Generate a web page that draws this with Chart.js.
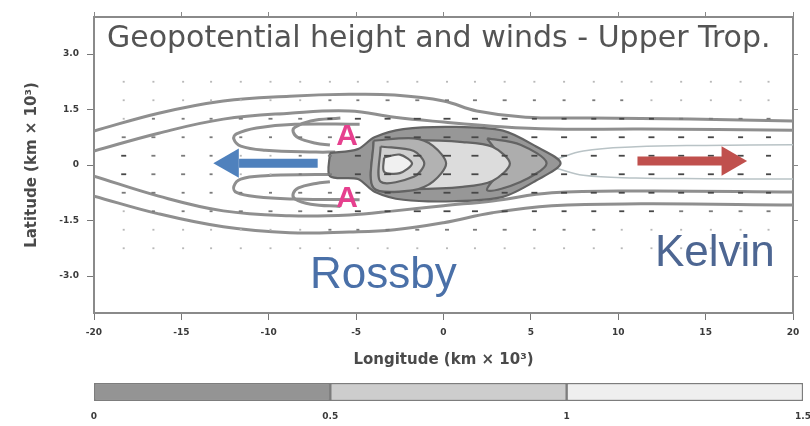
<!DOCTYPE html>
<html>
<head>
<meta charset="utf-8">
<script src="https://cdn.jsdelivr.net/npm/chart.js@4.4.0/dist/chart.umd.min.js"></script>
<style>
    html, body { margin: 0; padding: 0; background: #fff; }
    #wrap { position: relative; width: 810px; height: 426px; overflow: hidden; }
    canvas { position: absolute; left: 0; }
    #mainChart { top: 0; }
    #barChart { top: 372px; }
    .note { position: absolute; line-height: 1; white-space: nowrap; }
    #plotTitle { left: 107px; top: 19px; font: 30px 'DejaVu Sans'; color: #545454; }
    #rossby { left: 310px; top: 248px; font: 44px 'Liberation Sans'; color: #4a70a8; }
    #kelvin { left: 655px; top: 226px; font: 44px 'Liberation Sans'; color: #4d6692; }
    .high { left: 327px; width: 40px; text-align: center; font: bold 30px 'Liberation Sans'; color: #e6408e; }
    #highN { top: 118px; }
    #highS { top: 180px; }
</style>
</head>
<body>
<div id="wrap">
    <canvas id="mainChart" width="810" height="372"></canvas>
    <canvas id="barChart" width="810" height="54"></canvas>
    <div class="note" id="plotTitle">Geopotential height and winds - Upper Trop.</div>
    <div class="note high" id="highN">A</div>
    <div class="note high" id="highS">A</div>
    <div class="note" id="rossby">Rossby</div>
    <div class="note" id="kelvin">Kelvin</div>
</div>
<script>
// axis ticks
const yTicks = [-3, -1.5, 0, 1.5, 3];
const yTickLabels = ['-3.0', '-1.5', '0', '1.5', '3.0'];
const cbEdges = [0, 0.5, 1, 1.5];
const cbTickLabels = ['0', '0.5', '1', '1.5'];
const cbColors = ['#949494', '#cdcdcd', '#efefef'];

// geopotential contours (lon, lat in km x 10^3)
const contourN1 = [[-20, 0.92], [-16.3, 1.40], [-12.6, 1.73], [-8.8, 1.86], [-5.4, 1.91], [-2.8, 1.89], [0, 1.73], [1.9, 1.46], [4.7, 1.29], [8.5, 1.27], [14.1, 1.24], [20, 1.19]];
const contourN2 = [[-20, 0.38], [-16.3, 0.86], [-12.6, 1.24], [-8.8, 1.40], [-5.4, 1.46], [-2.8, 1.29], [0, 1.16], [2.8, 1.05], [6.2, 0.97], [11.3, 0.97], [20, 0.94]];
const contourS2 = [[-20, -0.30], [-16.3, -0.84], [-12.6, -1.24], [-8.8, -1.37], [-5.4, -1.35], [-2.8, -1.24], [0, -1.10], [2.8, -0.97], [6.2, -0.75], [11.3, -0.70], [20, -0.73]];
const contourS1 = [[-20, -0.84], [-16.3, -1.32], [-12.6, -1.67], [-8.8, -1.83], [-5.4, -1.81], [-2.8, -1.75], [0, -1.56], [2.8, -1.29], [6.2, -1.10], [11.3, -1.05], [20, -1.08]];
const kelvinN = [[6.4, 0.15], [8, 0.38], [11, 0.49], [15, 0.53], [20, 0.55]];
const kelvinS = [[6.4, -0.08], [8, -0.28], [11, -0.35], [15, -0.37], [20, -0.38]];
const lobeNOuter = [[-4.8, 1.10], [-8.5, 1.10], [-10.7, 1.00], [-11.85, 0.84], [-12.0, 0.70], [-11.6, 0.51], [-10.2, 0.40], [-7.3, 0.35], [-6.2, 0.35]];
const lobeNInner = [[-5.9, 1.27], [-7.6, 1.19], [-8.5, 1.02], [-8.6, 0.89], [-8.3, 0.73], [-7.3, 0.59], [-6.5, 0.54]];
const lobeSOuter = [[-6.2, -0.26], [-7.3, -0.26], [-10.2, -0.29], [-11.6, -0.38], [-12.0, -0.58], [-11.85, -0.74], [-10.7, -0.86], [-8.5, -0.92], [-4.8, -0.94]];
const lobeSInner = [[-6.5, -0.45], [-7.3, -0.50], [-8.3, -0.62], [-8.6, -0.77], [-8.5, -0.92], [-7.6, -1.06], [-5.9, -1.12]];

// shaded heights near the heating
const shadeOuter = [[-6.5, 0.32], [-4.9, 0.43], [-3.95, 0.75], [-2.3, 0.97], [0.6, 1.03], [3.4, 0.93], [5.3, 0.50], [6.7, 0.05], [5.3, -0.42], [3.4, -0.86], [0.6, -0.98], [-2.3, -0.94], [-3.95, -0.72], [-4.9, -0.38], [-6.5, -0.30], [-6.5, 0.32]];
const shadeTip = [[2.5, 0.72], [4.4, 0.55], [5.9, 0.05], [4.4, -0.46], [2.5, -0.68], [3.4, 0.03], [2.5, 0.72]];
const shadeC2 = [[-4, 0.62], [-1.7, 0.67], [1.1, 0.62], [2.8, 0.49], [3.8, 0.04], [2.8, -0.43], [1.1, -0.59], [-1.7, -0.65], [-4, -0.60], [-4, 0.62]];
const shadeC3 = [[-4, 0.66], [-1.7, 0.72], [-0.6, 0.52], [0.15, 0.04], [-0.6, -0.45], [-1.7, -0.68], [-4, -0.62], [-4, 0.66]];
const shadeC4 = [[-3.6, 0.50], [-1.7, 0.38], [-1.1, 0.04], [-1.7, -0.32], [-3.6, -0.45], [-3.6, 0.50]];
const shadeCore = [[-3.4, 0.20], [-2.5, 0.28], [-1.8, 0.04], [-2.5, -0.22], [-3.4, -0.18], [-3.4, 0.20]];

// wind grid
const windLon = [-18.3, -16.6, -14.9, -13.3, -11.6, -9.9, -8.2, -6.5, -4.9, -3.2, -1.5, 0.2, 1.8, 3.5, 5.2, 6.9, 8.6, 10.2, 11.9, 13.6, 15.3, 17.0, 18.6];
const windLat = [2.25, 1.75, 1.25, 0.75, 0.25, -0.25, -0.75, -1.25, -1.75, -2.25];
const windSpeed = [
    [1, 1, 1, 1, 1, 1, 1, 1, 1, 1, 1, 1, 1, 1, 1, 1, 1, 1, 1, 1, 1, 1, 1],
    [1, 1, 1, 1, 1, 1, 1, 1.5, 1.5, 2, 2, 2, 2, 2, 1.5, 1.5, 1.5, 1.5, 1, 1, 1, 1, 1],
    [1, 1.5, 1.5, 1.5, 2, 2, 2, 2.5, 3, 3, 3.5, 3.5, 3, 3, 2.5, 2.5, 2.5, 2.5, 2.5, 2, 2, 2, 2],
    [2, 2, 1.5, 1.5, 1.5, 1.5, 2, 2, 2.5, 3, 3.5, 3.5, 3.5, 3, 3, 3, 3, 3, 3, 3, 3, 2.5, 2.5],
    [2.5, 2, 2, 1.5, 1, 1, 1.5, 2, 3, 3.5, 4, 4, 3.5, 3, 3, 3, 3, 3, 3, 3, 3, 3, 2.5],
    [2.5, 2, 2, 1.5, 1, 1, 1.5, 2, 3, 3.5, 4, 4, 3.5, 3, 3, 3, 3, 3, 3, 3, 3, 3, 2.5],
    [2, 2, 1.5, 1.5, 1.5, 1.5, 2, 2, 2.5, 3, 3.5, 3.5, 3.5, 3, 3, 3, 3, 3, 3, 3, 3, 2.5, 2.5],
    [1, 1.5, 1.5, 1.5, 2, 2, 2, 2.5, 3, 3, 3.5, 3.5, 3, 3, 2.5, 2.5, 2.5, 2.5, 2.5, 2, 2, 2, 2],
    [1, 1, 1, 1, 1, 1, 1, 1.5, 1.5, 2, 2, 2, 2, 2, 1.5, 1.5, 1.5, 1, 1, 1, 1, 1, 1],
    [1, 1, 1, 1, 1, 1, 1, 1, 1, 1, 1, 1, 1, 1, 1, 1, 1, 1, 1, 1, 1, 1, 1]
];

// wave propagation arrows
const rossbyShaft = [[-7.2, 0.05], [-11.7, 0.05]];
const rossbyHead = [[-12.2, 0.05]];
const kelvinShaft = [[11.1, 0.11], [16.0, 0.11]];
const kelvinHead = [[16.4, 0.11]];

const pts = arr => arr.map(([x, y]) => ({ x, y }));

function contour(data, color, width, order) {
    return { data: pts(data), showLine: true, borderColor: color, borderWidth: width,
        pointRadius: 0, tension: 0.4, fill: false, order };
}
function patch(data, color, order) {
    return { data: pts(data), showLine: true, borderColor: '#636363', borderWidth: 2.2,
        backgroundColor: color, pointRadius: 0, tension: 0.3, fill: 'shape', order };
}

const windPoints = [], windRadius = [], windColor = [];
windLat.forEach((lat, r) => windLon.forEach((lon, c) => {
    const s = windSpeed[r][c];
    windPoints.push({ x: lon, y: lat });
    windRadius.push(s);
    windColor.push(s >= 2.5 ? '#474747' : s >= 1.5 ? '#7a7a7a' : '#b8b8b8');
}));

const tickFont = { family: 'DejaVu Sans', size: 9, weight: 'bold' };
const titleFont = { family: 'DejaVu Sans', size: 15, weight: 'bold' };
const frame = { color: '#8a8a8a', width: 2 };
const setYTicks = axis => { axis.ticks = yTicks.map(v => ({ value: v })); };
const noSidePad = s => { s.paddingLeft = 0; s.paddingRight = 0; };

new Chart(document.getElementById('mainChart'), {
    type: 'scatter',
    data: {
        datasets: [
            contour(contourN1, '#8f8f8f', 3, 40),
            contour(contourN2, '#8f8f8f', 3, 40),
            contour(contourS1, '#8f8f8f', 3, 40),
            contour(contourS2, '#8f8f8f', 3, 40),
            contour(lobeNOuter, '#8f8f8f', 3, 40),
            contour(lobeNInner, '#8f8f8f', 3, 40),
            contour(lobeSOuter, '#8f8f8f', 3, 40),
            contour(lobeSInner, '#8f8f8f', 3, 40),
            contour(kelvinN, '#b9c3c6', 1.5, 40),
            contour(kelvinS, '#b9c3c6', 1.5, 40),
            patch(shadeOuter, '#979797', 36),
            patch(shadeTip, '#adadad', 35),
            patch(shadeC2, '#dcdcdc', 34),
            patch(shadeC3, '#b2b2b2', 33),
            patch(shadeC4, '#d0d0d0', 32),
            patch(shadeCore, '#f0f0f0', 31),
            {
                data: windPoints, pointStyle: 'line', pointRadius: windRadius,
                pointBorderColor: windColor, pointBorderWidth: 1.8, order: 20
            },
            { data: pts(rossbyShaft), showLine: true, borderColor: '#4f81bd', borderWidth: 9, pointRadius: 0, order: 11 },
            { data: pts(kelvinShaft), showLine: true, borderColor: '#c0504d', borderWidth: 9, pointRadius: 0, order: 11 },
            { data: pts(rossbyHead), pointStyle: 'triangle', pointRadius: 17, pointRotation: 270,
              pointBackgroundColor: '#4f81bd', pointBorderWidth: 0, order: 10 },
            { data: pts(kelvinHead), pointStyle: 'triangle', pointRadius: 17, pointRotation: 90,
              pointBackgroundColor: '#c0504d', pointBorderWidth: 0, order: 10 }
        ]
    },
    options: {
        responsive: false,
        animation: false,
        events: [],
        layout: { padding: 0 },
        plugins: { legend: { display: false }, tooltip: { enabled: false } },
        scales: {
            x: {
                type: 'linear', position: 'bottom', min: -20, max: 20,
                ticks: { stepSize: 5, font: tickFont, color: '#3a3a3a', padding: 7 },
                grid: { drawOnChartArea: false, tickLength: 7, color: '#777' },
                border: frame,
                title: { display: true, text: 'Longitude (km × 10³)', font: titleFont, color: '#4a4a4a', padding: { top: 0, bottom: 3 } },
                afterFit: s => { s.height = 59; noSidePad(s); }
            },
            y: {
                type: 'linear', position: 'left', min: -4, max: 4,
                afterBuildTicks: setYTicks,
                ticks: { font: tickFont, color: '#3a3a3a', padding: 8,
                    callback: v => { const i = yTicks.indexOf(v); return i >= 0 ? yTickLabels[i] : ''; } },
                grid: { drawOnChartArea: false, tickLength: 7, color: '#777' },
                border: frame,
                title: { display: true, text: 'Latitude (km × 10³)', font: titleFont, color: '#4a4a4a', padding: { top: 23, bottom: 0 } },
                afterFit: s => { s.width = 94; }
            },
            x2: {
                type: 'linear', position: 'top', min: -20, max: 20,
                ticks: { stepSize: 5, display: false },
                grid: { drawOnChartArea: false, tickLength: 5, color: '#888' },
                border: frame,
                afterFit: s => { s.height = 15; noSidePad(s); }
            },
            y2: {
                type: 'linear', position: 'right', min: -4, max: 4,
                afterBuildTicks: setYTicks,
                ticks: { display: false },
                grid: { drawOnChartArea: false, tickLength: 5, color: '#888' },
                border: frame,
                afterFit: s => { s.width = 7; }
            }
        }
    }
});

// colour bar
new Chart(document.getElementById('barChart'), {
    type: 'bar',
    data: {
        labels: [''],
        datasets: cbColors.map((c, i) => ({
            data: [[cbEdges[i], cbEdges[i + 1]]],
            backgroundColor: c, borderColor: '#7d7d7d', borderWidth: 1.5,
            borderSkipped: false, barPercentage: 1, categoryPercentage: 1, grouped: false
        }))
    },
    options: {
        indexAxis: 'y',
        responsive: false,
        animation: false,
        events: [],
        layout: { padding: { left: 94, right: 7, top: 11, bottom: 0 } },
        plugins: { legend: { display: false }, tooltip: { enabled: false } },
        scales: {
            x: {
                type: 'linear', min: 0, max: 1.5,
                afterBuildTicks: axis => { axis.ticks = cbEdges.map(v => ({ value: v })); },
                ticks: { font: tickFont, color: '#3a3a3a', padding: 10,
                    callback: v => { const i = cbEdges.indexOf(v); return i >= 0 ? cbTickLabels[i] : ''; } },
                grid: { display: false, drawTicks: false },
                border: { display: false },
                afterFit: s => { s.height = 25; noSidePad(s); }
            },
            y: { display: false }
        }
    }
});
</script>
</body>
</html>
